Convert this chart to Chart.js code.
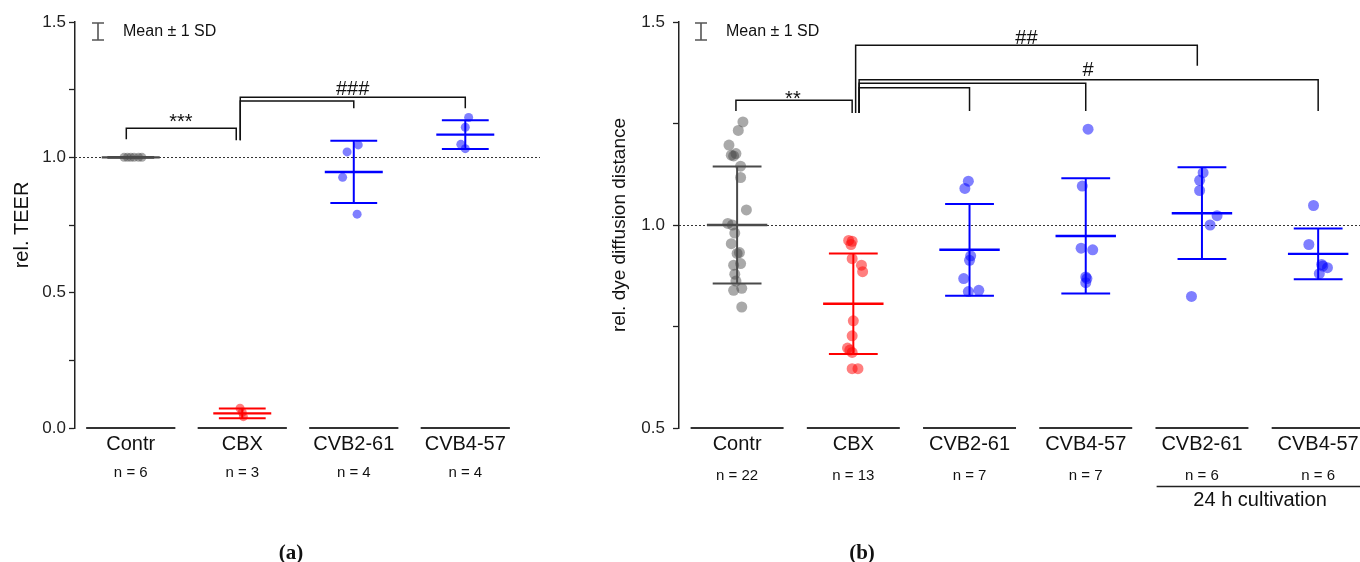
<!DOCTYPE html>
<html><head><meta charset="utf-8">
<script src="https://cdn.jsdelivr.net/npm/chart.js@4.4.1/dist/chart.umd.min.js"></script>
<style>
html,body{margin:0;padding:0;background:#fff;width:1360px;height:562px;overflow:hidden;}
#ca{position:absolute;left:0;top:0;}
#cb{position:absolute;left:600px;top:0;}
.cap{position:absolute;top:540px;font-family:'Liberation Serif','Times New Roman',serif;font-weight:bold;font-size:21px;color:#111;transform:translateX(-50%);line-height:24px;}
</style></head><body>
<canvas id="ca" width="540" height="562"></canvas>
<canvas id="cb" width="760" height="562"></canvas>
<div class="cap" style="left:291px">(a)</div>
<div class="cap" style="left:862px">(b)</div>
<script>
// ---------- Panel (a): relative TEER ----------
const catsA = ['Contr', 'CBX', 'CVB2-61', 'CVB4-57'];
const nA = ['n = 6', 'n = 3', 'n = 4', 'n = 4'];
const teerContr = [1.0, 1.0, 1.0, 1.0, 1.0, 1.0];
const teerContrJit = [-0.06, -0.03, 0.0, 0.03, 0.07, 0.10];
const teerCBX = [0.073, 0.058, 0.042];
const teerCBXJit = [-0.02, 0.0, 0.01];
const teerCVB261 = [1.046, 1.020, 0.926, 0.790];
const teerCVB261Jit = [0.04, -0.06, -0.10, 0.03];
const teerCVB457 = [1.147, 1.111, 1.048, 1.032];
const teerCVB457Jit = [0.03, 0.0, -0.04, 0.0];
const teerMeans = [1.0, 0.054, 0.946, 1.084];
const teerSDs = [0.0015, 0.018, 0.115, 0.053];
const yTicksA = [0, 0.25, 0.5, 0.75, 1.0, 1.25, 1.5];
const yLabelsA = ['0.0', '', '0.5', '', '1.0', '', '1.5'];

// ---------- Panel (b): relative dye diffusion distance ----------
const catsB = ['Contr', 'CBX', 'CVB2-61', 'CVB4-57', 'CVB2-61', 'CVB4-57'];
const nB = ['n = 22', 'n = 13', 'n = 7', 'n = 7', 'n = 6', 'n = 6'];
const dyeContr = [1.254, 1.233, 1.197, 1.176, 1.172, 1.170, 1.145, 1.117, 1.037, 1.004, 1.000,
                  0.980, 0.954, 0.932, 0.930, 0.905, 0.901, 0.879, 0.862, 0.844, 0.839, 0.798];
const dyeContrJit = [0.05, 0.01, -0.07, -0.01, -0.05, -0.03, 0.03, 0.03, 0.08, -0.08, -0.04,
                     -0.02, -0.05, 0.02, 0.0, 0.03, -0.03, -0.02, -0.01, 0.04, -0.03, 0.04];
const dyeCBX = [0.962, 0.960, 0.952, 0.917, 0.901, 0.885, 0.764, 0.727, 0.697, 0.692, 0.686, 0.646, 0.646];
const dyeCBXJit = [-0.04, -0.01, -0.02, -0.01, 0.07, 0.08, 0.0, -0.01, -0.05, -0.03, -0.01, -0.01, 0.04];
const dyeCVB261 = [1.108, 1.090, 0.924, 0.913, 0.868, 0.836, 0.839];
const dyeCVB261Jit = [-0.01, -0.04, 0.01, 0.0, -0.05, -0.01, 0.08];
const dyeCVB457 = [1.236, 1.096, 0.943, 0.939, 0.872, 0.868, 0.858];
const dyeCVB457Jit = [0.02, -0.03, -0.04, 0.06, 0.0, 0.01, 0.0];
const dyeCVB261h24 = [1.129, 1.110, 1.085, 1.023, 1.000, 0.824];
const dyeCVB261h24Jit = [0.01, -0.02, -0.02, 0.13, 0.07, -0.09];
const dyeCVB457h24 = [1.048, 0.952, 0.903, 0.895, 0.899, 0.880];
const dyeCVB457h24Jit = [-0.04, -0.08, 0.03, 0.08, 0.04, 0.01];
const dyeMeans = [1.000, 0.806, 0.939, 0.973, 1.029, 0.929];
const dyeSDs = [0.144, 0.124, 0.113, 0.142, 0.113, 0.0625];
const yTicksB = [0.5, 0.75, 1.0, 1.25, 1.5];
const yLabelsB = ['0.5', '', '1.0', '', '1.5'];
const cultivationGroups = [4, 5];
const cultivationLabel = '24 h cultivation';

// significance brackets: [x from, x to, bar height, left leg end, right leg end]
const bracketsA = [
  [-0.04, 0.946, 1.107, 1.067, 1.063],
  [0.982, 3.0, 1.222, 1.063, 1.181],
  [0.982, 2.0, 1.208, 1.063, 1.181]
];
const sigTextA = [['***', 0.45, 1.108], ['###', 1.99, 1.232]];
const bracketsB = [
  [-0.01, 0.99, 1.307, 1.281, 1.276],
  [1.02, 3.96, 1.443, 1.276, 1.392],
  [1.05, 5.0, 1.358, 1.276, 1.281],
  [1.05, 3.0, 1.349, 1.276, 1.281],
  [1.05, 2.0, 1.338, 1.276, 1.281]
];
const sigTextB = [['**', 0.48, 1.295], ['##', 2.49, 1.447], ['#', 3.02, 1.368]];

// ---------- colours ----------
const GREY_PT = 'rgba(64,64,64,0.45)', RED_PT = 'rgba(255,0,0,0.5)', BLUE_PT = 'rgba(0,0,255,0.5)';
const GREY_LN = '#4a4a4a', RED_LN = '#ff0000', BLUE_LN = '#0000ff';

Chart.defaults.font.family = "'Liberation Sans', Arial, Helvetica, sans-serif";
Chart.defaults.color = '#111';
Chart.defaults.animation = false;

function groupDataset(vals, jit, idx, color, r) {
  return {
    data: vals.map((v, k) => ({ x: idx + jit[k], y: v })),
    backgroundColor: color, borderWidth: 0, pointRadius: r, pointHoverRadius: r
  };
}

function makePlugin(p) {
  return {
    id: 'panel' + p.name,
    beforeDatasetsDraw(chart) {
      const { ctx, chartArea, scales: { x, y } } = chart;
      ctx.save();
      ctx.strokeStyle = '#333'; ctx.lineWidth = 1; ctx.setLineDash([2, 2]);
      const yr = Math.round(y.getPixelForValue(1.0)) + 0.5;
      ctx.beginPath(); ctx.moveTo(chartArea.left, yr); ctx.lineTo(chartArea.right, yr); ctx.stroke();
      ctx.setLineDash([]);
      ctx.strokeStyle = '#333'; ctx.lineWidth = 2;
      const yb = chartArea.bottom;
      p.cats.forEach((c, i) => {
        ctx.beginPath();
        ctx.moveTo(x.getPixelForValue(i - 0.4), yb);
        ctx.lineTo(x.getPixelForValue(i + 0.4), yb);
        ctx.stroke();
      });
      ctx.restore();
    },
    afterDatasetsDraw(chart) {
      const { ctx, chartArea, scales: { x, y } } = chart;
      ctx.save();
      // mean +/- SD
      p.means.forEach((m, i) => {
        const s = p.sds[i];
        ctx.strokeStyle = p.lineColors[i]; ctx.lineWidth = 2;
        const xc = x.getPixelForValue(i);
        const yT = y.getPixelForValue(m + s), yB = y.getPixelForValue(m - s), yM = y.getPixelForValue(m);
        ctx.beginPath(); ctx.moveTo(xc, yT); ctx.lineTo(xc, yB); ctx.stroke();
        ctx.beginPath();
        ctx.moveTo(x.getPixelForValue(i - 0.21), yT); ctx.lineTo(x.getPixelForValue(i + 0.21), yT);
        ctx.moveTo(x.getPixelForValue(i - 0.21), yB); ctx.lineTo(x.getPixelForValue(i + 0.21), yB);
        ctx.stroke();
        ctx.lineWidth = 2.4;
        ctx.beginPath();
        ctx.moveTo(x.getPixelForValue(i - 0.26), yM); ctx.lineTo(x.getPixelForValue(i + 0.26), yM);
        ctx.stroke();
      });
      // brackets
      ctx.strokeStyle = '#111'; ctx.lineWidth = 1.5;
      p.brackets.forEach(b => {
        const x1 = x.getPixelForValue(b[0]), x2 = x.getPixelForValue(b[1]);
        const yb = y.getPixelForValue(b[2]);
        ctx.beginPath();
        ctx.moveTo(x1, y.getPixelForValue(b[3])); ctx.lineTo(x1, yb);
        ctx.lineTo(x2, yb); ctx.lineTo(x2, y.getPixelForValue(b[4]));
        ctx.stroke();
      });
      ctx.fillStyle = '#111';
      ctx.font = "20px 'Liberation Sans', Arial, sans-serif";
      ctx.textAlign = 'center'; ctx.textBaseline = 'alphabetic';
      p.sigText.forEach(t => ctx.fillText(t[0], x.getPixelForValue(t[1]), y.getPixelForValue(t[2])));
      // legend: Mean +/- 1 SD
      const lx = chartArea.left + p.legOff;
      ctx.strokeStyle = '#555'; ctx.lineWidth = 1.6;
      ctx.beginPath();
      ctx.moveTo(lx - 6, 23); ctx.lineTo(lx + 6, 23);
      ctx.moveTo(lx, 23); ctx.lineTo(lx, 40);
      ctx.moveTo(lx - 6, 40); ctx.lineTo(lx + 6, 40);
      ctx.stroke();
      ctx.font = "16px 'Liberation Sans', Arial, sans-serif";
      ctx.textAlign = 'left'; ctx.textBaseline = 'middle';
      ctx.fillText('Mean \u00b1 1 SD', lx + 25, 32);
      // cultivation underline
      if (p.cult) {
        const xc = chart.scales.xc;
        const ly = xc.top - 1.5;
        ctx.strokeStyle = '#222'; ctx.lineWidth = 1.6;
        ctx.beginPath();
        ctx.moveTo(x.getPixelForValue(p.cult[0] - 0.39), ly); ctx.lineTo(chartArea.right, ly);
        ctx.stroke();
      }
      ctx.restore();
    }
  };
}

function fixX(h) {
  return s => { s.height = h; s.paddingLeft = 0; s.paddingRight = 0; };
}

function makeChart(el, p) {
  const scales = {
    x: {
      type: 'linear', position: 'bottom', min: p.xmin, max: p.xmax, weight: 0,
      afterBuildTicks: s => { s.ticks = p.cats.map((_, i) => ({ value: i })); },
      afterFit: fixX(30),
      grid: { display: false, drawTicks: false }, border: { display: false },
      ticks: { autoSkip: false, maxRotation: 0, minRotation: 0, padding: 4, font: { size: 20 }, color: '#111',
               callback: (v, i) => p.cats[i] }
    },
    xn: {
      type: 'linear', position: 'bottom', min: p.xmin, max: p.xmax, weight: 1,
      afterBuildTicks: s => { s.ticks = p.ns.map((_, i) => ({ value: i })); },
      afterFit: fixX(30),
      grid: { display: false, drawTicks: false }, border: { display: false },
      ticks: { autoSkip: false, maxRotation: 0, minRotation: 0, padding: p.nPad, font: { size: 15 }, color: '#111',
               callback: (v, i) => p.ns[i] }
    },
    y: {
      type: 'linear', position: 'left', min: p.ymin, max: p.ymax,
      afterBuildTicks: s => { s.ticks = p.yTicks.map(v => ({ value: v })); },
      afterFit: s => { s.width = p.yWidth; },
      grid: { display: true, drawOnChartArea: false, drawTicks: true, tickLength: 6, tickColor: '#222', tickWidth: 1.3 },
      border: { display: true, color: '#222', width: 1.5 },
      ticks: { padding: p.tickPad, font: { size: 17 }, color: '#222', callback: (v, i) => p.yLabels[i] },
      title: { display: true, text: p.yTitle, font: { size: p.titleSize }, color: '#111', padding: { top: p.titlePad, bottom: 0 } }
    }
  };
  if (p.cult) {
    scales.xc = {
      type: 'linear', position: 'bottom', min: p.xmin, max: p.xmax, weight: 2,
      afterBuildTicks: s => { s.ticks = [{ value: (p.cult[0] + p.cult[1]) / 2 }]; },
      afterFit: fixX(30),
      grid: { display: false, drawTicks: false }, border: { display: false },
      ticks: { autoSkip: false, maxRotation: 0, minRotation: 0, padding: 0, font: { size: 20 }, color: '#111',
               callback: () => p.cultText }
    };
  }
  return new Chart(el, {
    type: 'scatter',
    data: { datasets: p.datasets },
    options: {
      responsive: false, devicePixelRatio: 1, animation: false,
      layout: { autoPadding: false, padding: { top: 22, left: 0, right: 0, bottom: p.padBottom } },
      plugins: { legend: { display: false }, tooltip: { enabled: false } },
      scales
    },
    plugins: [makePlugin(p)]
  });
}

makeChart(document.getElementById('ca'), {
  name: 'A', cats: catsA, ns: nA, xmin: -0.5, xmax: 3.67, ymin: 0, ymax: 1.5,
  yTicks: yTicksA, yLabels: yLabelsA, yWidth: 75, tickPad: 3, yTitle: 'rel. TEER', titleSize: 20, titlePad: 10,
  nPad: 6, padBottom: 74, legOff: 23,
  means: teerMeans, sds: teerSDs, lineColors: [GREY_LN, RED_LN, BLUE_LN, BLUE_LN],
  brackets: bracketsA, sigText: sigTextA,
  datasets: [
    groupDataset(teerContr, teerContrJit, 0, GREY_PT, 4.5),
    groupDataset(teerCBX, teerCBXJit, 1, RED_PT, 4.5),
    groupDataset(teerCVB261, teerCVB261Jit, 2, BLUE_PT, 4.5),
    groupDataset(teerCVB457, teerCVB457Jit, 3, BLUE_PT, 4.5)
  ]
});

makeChart(document.getElementById('cb'), {
  name: 'B', cats: catsB, ns: nB, xmin: -0.5, xmax: 5.36, ymin: 0.5, ymax: 1.5,
  yTicks: yTicksB, yLabels: yLabelsB, yWidth: 79, tickPad: 8, yTitle: 'rel. dye diffusion distance', titleSize: 19, titlePad: 8,
  nPad: 9, padBottom: 44, legOff: 22, cult: cultivationGroups, cultText: cultivationLabel,
  means: dyeMeans, sds: dyeSDs, lineColors: [GREY_LN, RED_LN, BLUE_LN, BLUE_LN, BLUE_LN, BLUE_LN],
  brackets: bracketsB, sigText: sigTextB,
  datasets: [
    groupDataset(dyeContr, dyeContrJit, 0, GREY_PT, 5.5),
    groupDataset(dyeCBX, dyeCBXJit, 1, RED_PT, 5.5),
    groupDataset(dyeCVB261, dyeCVB261Jit, 2, BLUE_PT, 5.5),
    groupDataset(dyeCVB457, dyeCVB457Jit, 3, BLUE_PT, 5.5),
    groupDataset(dyeCVB261h24, dyeCVB261h24Jit, 4, BLUE_PT, 5.5),
    groupDataset(dyeCVB457h24, dyeCVB457h24Jit, 5, BLUE_PT, 5.5)
  ]
});
</script>
</body></html>
